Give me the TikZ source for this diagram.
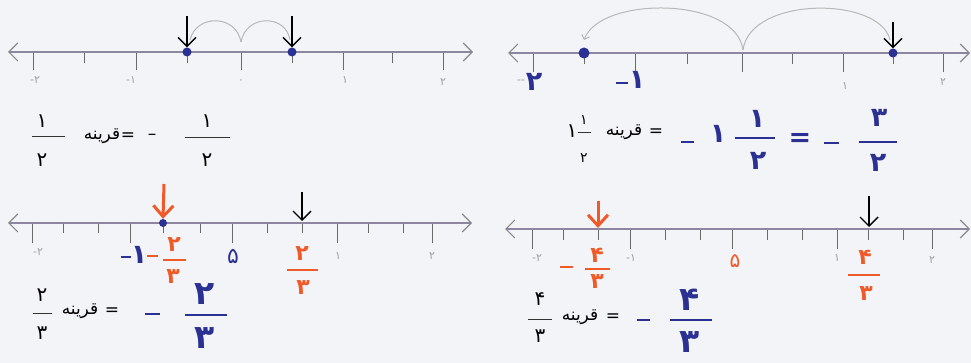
\documentclass[tikz,border=0pt]{standalone}
\usepackage{fontspec}
\usetikzlibrary{arrows.meta}
\TeXXeTstate=1
\newfontfamily\fa[Script=Arabic]{DejaVu Sans}
\newfontfamily\dv{DejaVu Sans}
\definecolor{paper}{HTML}{F3F4F7}
\definecolor{linec}{HTML}{8C86A0}
\definecolor{tipc}{HTML}{8A8A8A}
\definecolor{tickc}{HTML}{6A6A6A}
\definecolor{bluec}{HTML}{2B3192}
\definecolor{orangec}{HTML}{F05A28}
\definecolor{faintc}{HTML}{A0A0A0}
\definecolor{arcc}{HTML}{B8B8B8}
\begin{document}
\begin{tikzpicture}[x=1pt,y=-1pt,
  numline/.style={draw=linec,line width=1.4pt,
    {Straight Barb[length=9pt,width=18pt,line width=1.1pt,color=tipc]}-{Straight Barb[length=9pt,width=18pt,line width=1.1pt,color=tipc]}},
  tickmark/.style={draw=tickc,line width=1pt},
  bdot/.style={circle,fill=bluec,inner sep=0pt,minimum size=#1},
  bdot/.default=9pt,
  downarr/.style={draw=black,line width=1.4pt,-{Straight Barb[length=9pt,width=18pt,line width=1.4pt]}},
  orarr/.style={draw=orangec,line width=3pt,-{Straight Barb[length=11pt,width=20pt,line width=3pt]}},
  hop/.style={draw=arcc,line width=1pt},
  hoparr/.style={draw=arcc,line width=1pt,-{Straight Barb[length=4pt,width=8pt]}},
  blk/.style={font=\fa\fontsize{17}{17}\selectfont,text=black,inner sep=0pt},
  blkd/.style={font=\fa\fontsize{20}{20}\selectfont,text=black,inner sep=0pt},
  blks/.style={font=\fa\fontsize{14}{14}\selectfont,text=black,inner sep=0pt},
  blu/.style={font=\fa\bfseries\fontsize{27}{27}\selectfont,text=bluec,inner sep=0pt},
  blub/.style={font=\fa\bfseries\fontsize{33}{33}\selectfont,text=bluec,inner sep=0pt},
  bluz/.style={font=\fa\fontsize{22}{22}\selectfont,text=bluec,inner sep=0pt},
  org/.style={font=\fa\bfseries\fontsize{22}{22}\selectfont,text=orangec,inner sep=0pt},
  orgz/.style={font=\fa\fontsize{20}{20}\selectfont,text=orangec,inner sep=0pt},
  fnt/.style={font=\fa\fontsize{11}{11}\selectfont,text=faintc,inner sep=0pt},
  fbk/.style={draw=black!80,line width=1pt},
  fbl/.style={draw=bluec,line width=2pt},
  forg/.style={draw=orangec,line width=2.6pt},
  mbl/.style={draw=bluec,line width=2.6pt},
  morg/.style={draw=orangec,line width=2.6pt}
]
\fill[paper] (0,0) rectangle (971,363);
\useasboundingbox (0,0) rectangle (971,363);

% ================= Panel 1 (top-left) =================
\coordinate (l1a) at (8,52);
\coordinate (l1b) at (473,52);
\draw[numline] (l1a) -- (l1b);
\foreach \x/\l in {33/17,84/10,136/17,187/10,241/17,292/10,343/17,392/10,443/17}
  \draw[tickmark] (\x,53) -- ++(0,\l);
\node[fnt] (f1a) at (35,80) {{\dv -}۲};
\node[fnt] (f1b) at (131,80) {{\dv -}۱};
\node[fnt] (f1c) at (241,82) {۰};
\node[fnt] (f1d) at (345,80) {۱};
\node[fnt] (f1e) at (443,82) {۲};
\node[bdot] (p1a) at (187,52) {};
\node[bdot] (p1b) at (292,52) {};
\coordinate (z1) at (241,42);
\coordinate (e1a) at (190,40);
\coordinate (e1b) at (290,40);
\draw[hop] (z1) .. controls (236,14) and (196,14) .. (e1a);
\draw[hop] (z1) .. controls (246,14) and (286,14) .. (e1b);
\coordinate (a1a) at (187,16);
\coordinate (a1b) at (292,16);
\draw[downarr] (a1a) -- (p1a.north);
\draw[downarr] (a1b) -- (p1b.north);
% text row 1-left
\node[blkd] (n1a) at (42,121) {۱};
\coordinate (b1aL) at (32,137); \coordinate (b1aR) at (65,137);
\draw[fbk] (b1aL) -- (b1aR);
\node[blkd] (d1a) at (42,160) {۲};
\node[blk] (q1) at (102,136) {\beginR قرینه\endR};
\node[blk] (eq1) at (128,137) {=};
\node[blk] (m1) at (152,137) {\dv –};
\node[blkd] (n1b) at (207,121) {۱};
\coordinate (b1bL) at (185,138); \coordinate (b1bR) at (230,138);
\draw[fbk] (b1bL) -- (b1bR);
\node[blkd] (d1b) at (207,160) {۲};

% ================= Panel 2 (top-right) =================
\coordinate (l2a) at (508,53);
\coordinate (l2b) at (970,53);
\draw[numline] (l2a) -- (l2b);
\foreach \x/\l in {533/18,584/10,635/18,687/10,742/18,792/10,843/18,893/10,943/18}
  \draw[tickmark] (\x,54) -- ++(0,\l);
\node[fnt] (f2a) at (521,82) {{\dv --}};
\node[blu] (g2a) at (534,82) {۲};
\coordinate (m2aL) at (616,83); \coordinate (m2aR) at (628,83);
\draw[mbl] (m2aL) -- (m2aR);
\node[blu] (g2b) at (637,80) {۱};
\node[fnt] (f2d) at (845,86) {۱};
\node[fnt] (f2e) at (943,82) {۲};
\node[bdot=11pt] (p2a) at (584,53) {};
\node[bdot] (p2b) at (893,53) {};
\coordinate (z2) at (743,50);
\coordinate (e2a) at (584,40);
\coordinate (e2b) at (890,40);
\draw[hoparr] (z2) .. controls (736,-4) and (600,-4) .. (e2a);
\draw[hop] (z2) .. controls (750,-4) and (880,-4) .. (e2b);
\coordinate (a2b) at (893,22);
\draw[downarr] (a2b) -- (p2b.north);
% text row 2-right
\node[blkd] (w2) at (572,131) {۱};
\node[blks] (n2s) at (584,120) {۱};
\coordinate (b2sL) at (578,133); \coordinate (b2sR) at (591,133);
\draw[fbk] (b2sL) -- (b2sR);
\node[blks] (d2s) at (584,158) {۲};
\node[blk] (q2) at (624,132) {\beginR قرینه\endR};
\node[blk] (eq2) at (656,133) {=};
\coordinate (m2bL) at (681,142); \coordinate (m2bR) at (694,142);
\draw[mbl] (m2bL) -- (m2bR);
\node[blu] (w2b) at (718,134) {۱};
\node[blu] (n2b) at (757,119) {۱};
\coordinate (b2bL) at (735,138); \coordinate (b2bR) at (775,138);
\draw[fbl] (b2bL) -- (b2bR);
\node[blu] (d2b) at (758,161) {۲};
\node[blu] (eq2b) at (800,140) {=};
\coordinate (m2cL) at (824,143); \coordinate (m2cR) at (839,143);
\draw[mbl] (m2cL) -- (m2cR);
\node[blu] (n2c) at (879,118) {۳};
\coordinate (b2cL) at (859,142); \coordinate (b2cR) at (897,142);
\draw[fbl] (b2cL) -- (b2cR);
\node[blu] (d2c) at (878,163) {۲};

% ================= Panel 3 (bottom-left) =================
\coordinate (l3a) at (8,223);
\coordinate (l3b) at (472,223);
\draw[numline] (l3a) -- (l3b);
\foreach \x/\l in {32/19,63/9,98/9,130/19,163/9,200/9,232/19,267/9,302/9,337/19,368/9,403/9,432/19}
  \draw[tickmark] (\x,224) -- ++(0,\l);
\node[fnt] (f3a) at (38,252) {{\dv -}۲};
\coordinate (m3aL) at (121,257); \coordinate (m3aR) at (131,257);
\draw[mbl] (m3aL) -- (m3aR);
\node[blu] (g3b) at (139,255) {۱};
\coordinate (m3bL) at (147,256); \coordinate (m3bR) at (158,256);
\draw[morg] (m3bL) -- (m3bR);
\node[org] (n3a) at (174,245) {۲};
\coordinate (b3aL) at (163,260); \coordinate (b3aR) at (186,260);
\draw[forg] (b3aL) -- (b3aR);
\node[org] (d3a) at (173,277) {۳};
\node[bluz] (g3c) at (233,256) {۵};
\node[fnt] (f3d) at (338,256) {۱};
\node[org] (n3b) at (302,254) {۲};
\coordinate (b3bL) at (287,270); \coordinate (b3bR) at (318,270);
\draw[forg] (b3bL) -- (b3bR);
\node[org] (d3b) at (303,288) {۳};
\node[fnt] (f3e) at (432,256) {۲};
\node[bdot=8pt] (p3a) at (163,223) {};
\coordinate (o3a) at (164,184);
\draw[orarr] (o3a) -- (p3a.north);
\coordinate (a3b) at (302,192);
\coordinate (t3b) at (302,221);
\draw[downarr] (a3b) -- (t3b);
% text row 3-left
\node[blkd] (n3c) at (42,295) {۲};
\coordinate (b3cL) at (33,313); \coordinate (b3cR) at (52,313);
\draw[fbk] (b3cL) -- (b3cR);
\node[blkd] (d3c) at (42,333) {۳};
\node[blk] (q3) at (80,311) {\beginR قرینه\endR};
\node[blk] (eq3) at (112,312) {=};
\coordinate (m3cL) at (145,314); \coordinate (m3cR) at (160,314);
\draw[mbl] (m3cL) -- (m3cR);
\node[blub] (n3d) at (205,294) {۲};
\coordinate (b3dL) at (185,315); \coordinate (b3dR) at (227,315);
\draw[fbl] (b3dL) -- (b3dR);
\node[blub] (d3d) at (205,338) {۳};

% ================= Panel 4 (bottom-right) =================
\coordinate (l4a) at (505,229);
\coordinate (l4b) at (970,229);
\draw[numline] (l4a) -- (l4b);
\foreach \x/\l in {532/19,563/10,598/10,630/19,665/10,700/10,732/19,767/10,802/10,837/19,868/10,903/10,932/19}
  \draw[tickmark] (\x,230) -- ++(0,\l);
\node[fnt] (f4a) at (537,258) {{\dv -}۲};
\coordinate (m4aL) at (560,267); \coordinate (m4aR) at (573,267);
\draw[morg] (m4aL) -- (m4aR);
\node[org] (n4a) at (597,255) {۴};
\coordinate (b4aL) at (585,269); \coordinate (b4aR) at (610,269);
\draw[forg] (b4aL) -- (b4aR);
\node[org] (d4a) at (597,282) {۳};
\node[fnt] (f4b) at (631,258) {{\dv -}۱};
\node[orgz] (g4c) at (735,261) {۵};
\node[fnt] (f4d) at (837,258) {۱};
\node[org] (n4b) at (865,257) {۴};
\coordinate (b4bL) at (848,275); \coordinate (b4bR) at (880,275);
\draw[forg] (b4bL) -- (b4bR);
\node[org] (d4b) at (866,294) {۳};
\node[fnt] (f4e) at (932,260) {۲};
\coordinate (o4a) at (598,201);
\coordinate (t4a) at (598,228);
\draw[orarr] (o4a) -- (t4a);
\coordinate (a4b) at (869,196);
\coordinate (t4b) at (869,227);
\draw[downarr] (a4b) -- (t4b);
% text row 4-right
\node[blkd] (n4c) at (540,299) {۴};
\coordinate (b4cL) at (528,319); \coordinate (b4cR) at (552,319);
\draw[fbk] (b4cL) -- (b4cR);
\node[blkd] (d4c) at (540,336) {۳};
\node[blk] (q4) at (580,317) {\beginR قرینه\endR};
\node[blk] (eq4) at (613,318) {=};
\coordinate (m4cL) at (637,320); \coordinate (m4cR) at (650,320);
\draw[mbl] (m4cL) -- (m4cR);
\node[blub] (n4d) at (690,300) {۴};
\coordinate (b4dL) at (670,320); \coordinate (b4dR) at (712,320);
\draw[fbl] (b4dL) -- (b4dR);
\node[blub] (d4d) at (690,342) {۳};
\end{tikzpicture}
\end{document}
